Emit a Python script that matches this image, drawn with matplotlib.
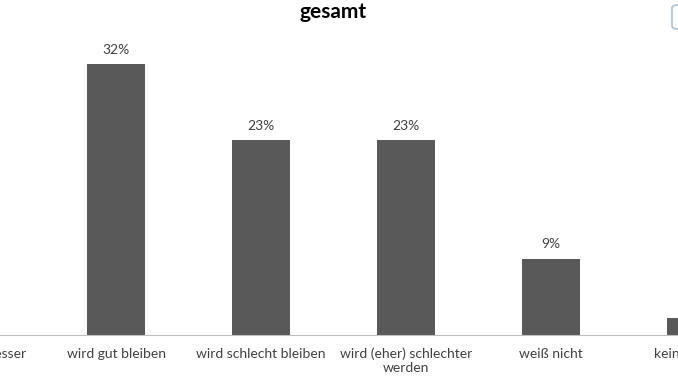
import matplotlib.pyplot as plt
from matplotlib.patches import FancyBboxPatch

categories = ['wird (eher) besser', 'wird gut bleiben', 'wird schlecht bleiben',
              'wird (eher) schlechter\nwerden', 'weiß nicht', 'keine Angabe']
values = [11, 32, 23, 23, 9, 2]
pct_labels = ['11%', '32%', '23%', '23%', '9%', '2%']

plt.rcParams['font.family'] = ['Lato', 'DejaVu Sans']

fig = plt.figure(figsize=(6.78, 3.81), dpi=100)
# plot area is wider than the picture: the outer categories are cut off
ax = fig.add_axes([-101 / 678, 46 / 381, 869 / 678, 296 / 381])

x = range(len(categories))
ax.bar(x, values, width=0.4, color='#595959')
for xi, v, lab in zip(x, values, pct_labels):
    ax.text(xi, v + 1.0, lab, ha='center', va='bottom', fontsize=10, color='#404040')

ax.set_xlim(-0.5, len(categories) - 0.5)
ax.set_ylim(0, 35)
ax.set_xticks(list(x))
ax.set_xticklabels(categories, fontsize=10, color='#404040', linespacing=1.15)
ax.tick_params(axis='x', length=0, pad=9)
ax.set_yticks([])
for s in ['top', 'left', 'right']:
    ax.spines[s].set_visible(False)
ax.spines['bottom'].set_color('#bfbfbf')

ax.set_title('gesamt', fontsize=15, fontweight='bold', color='#000000', pad=15)

# edge of a box at the top right, cut off by the picture border
box = FancyBboxPatch((672 / 678, 352 / 381), 0.05, 24 / 381,
                     boxstyle='round,pad=0,rounding_size=0.008',
                     transform=fig.transFigure, facecolor='white',
                     edgecolor='#a9c1e3', linewidth=1.2)
fig.patches.append(box)

fig.savefig('out.png', dpi=100)
